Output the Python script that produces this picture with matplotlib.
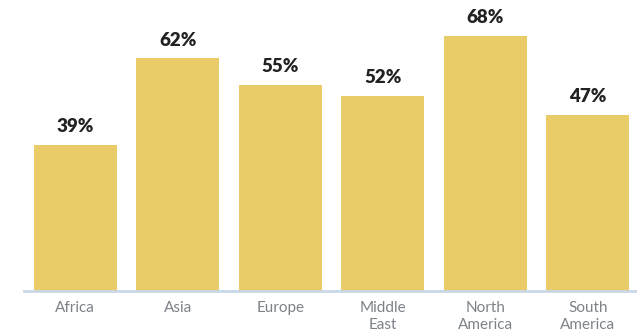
import matplotlib.pyplot as plt

# Share of respondents by region
regions = ["Africa", "Asia", "Europe", "Middle\nEast", "North\nAmerica", "South\nAmerica"]
shares = [39, 62, 55, 52, 68, 47]

bar_color = "#E9CB67"
axis_color = "#C9D7E6"
tick_color = "#7D8289"
label_color = "#222222"

plt.rcParams["font.family"] = ["Lato", "DejaVu Sans"]

fig = plt.figure(figsize=(6.37, 3.34), dpi=100)
ax = fig.add_axes([24 / 637, 43 / 334, 615 / 637, 291 / 334])

x = range(len(regions))
bars = ax.bar(x, shares, width=0.81, color=bar_color, zorder=2)

# value labels above each bar
for rect, v in zip(bars, shares):
    ax.annotate(f"{v}%", (rect.get_x() + rect.get_width() / 2, v),
                xytext=(0, 7), textcoords="offset points",
                ha="center", va="bottom", fontsize=13.5,
                fontweight="heavy", color=label_color)

ax.set_xlim(-0.5, 5.5)
ax.set_ylim(0, 77.6)
ax.set_xticks(list(x))
ax.set_xticklabels(regions, fontsize=11, color=tick_color, linespacing=1.3)
ax.tick_params(axis="x", length=0, pad=7)
ax.set_yticks([])

for side in ["top", "right", "left"]:
    ax.spines[side].set_visible(False)
ax.spines["bottom"].set_color(axis_color)
ax.spines["bottom"].set_linewidth(2)

fig.savefig("out.png", dpi=100)
